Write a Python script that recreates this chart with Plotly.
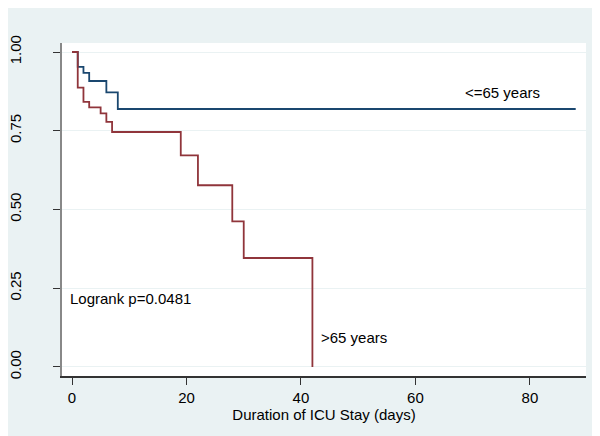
import plotly.graph_objects as go

# Kaplan-Meier step points
young_t = [0, 1, 2, 3, 6, 8, 88]
young_s = [1.0, 0.953, 0.934, 0.908, 0.872, 0.819, 0.819]

old_t = [0, 1, 2, 3, 5, 6, 7, 19, 22, 28, 30, 42]
old_s = [1.0, 0.887, 0.842, 0.824, 0.805, 0.778, 0.746, 0.672, 0.577, 0.462, 0.346, 0.0]

x_ticks = [0, 20, 40, 60, 80]
y_ticks = [0, 0.25, 0.5, 0.75, 1.0]

navy = '#1a476f'
maroon = '#90353b'
bg = '#eaf2f3'

fig = go.Figure()
fig.add_trace(go.Scatter(x=young_t, y=young_s, mode='lines', line=dict(color=navy, width=1.8, shape='hv'),
                         name='<=65 years'))
fig.add_trace(go.Scatter(x=old_t, y=old_s, mode='lines', line=dict(color=maroon, width=1.8, shape='hv'),
                         name='>65 years'))

fig.add_annotation(x=68.3, y=0.873, text='<=65 years', showarrow=False, xanchor='left', yanchor='middle',
                   font=dict(size=15, color='black'))
fig.add_annotation(x=43.1, y=0.095, text='>65 years', showarrow=False, xanchor='left', yanchor='middle',
                   font=dict(size=15, color='black'))
fig.add_annotation(x=-0.7, y=0.219, text='Logrank p=0.0481', showarrow=False, xanchor='left', yanchor='middle',
                   font=dict(size=15, color='black'))

# page body adds ~8px offset, so margins are shifted to compensate
fig.update_layout(
    width=600, height=436,
    margin=dict(l=54, r=22, t=35, b=68),
    paper_bgcolor=bg, plot_bgcolor='white',
    showlegend=False,
    font=dict(family='Liberation Sans, Arial', size=15, color='black'),
)
fig.update_xaxes(range=[-1.75, 89.8], tickvals=x_ticks, showgrid=False, zeroline=False, automargin=False,
                 showline=True, linecolor='#333333', linewidth=1.5,
                 ticks='outside', ticklen=7, tickcolor='#333333',
                 title=dict(text='Duration of ICU Stay (days)', standoff=0, font=dict(size=15)))
fig.update_yaxes(range=[-0.0286, 1.0286], tickvals=y_ticks, tickformat='.2f', tickangle=-90,
                 showgrid=True, gridcolor=bg, gridwidth=1, zeroline=False, automargin=False,
                 showline=True, linecolor='#888888', linewidth=2,
                 ticks='outside', ticklen=7, tickcolor='#333333', ticklabelstandoff=26)

fig.write_html("out.html")
